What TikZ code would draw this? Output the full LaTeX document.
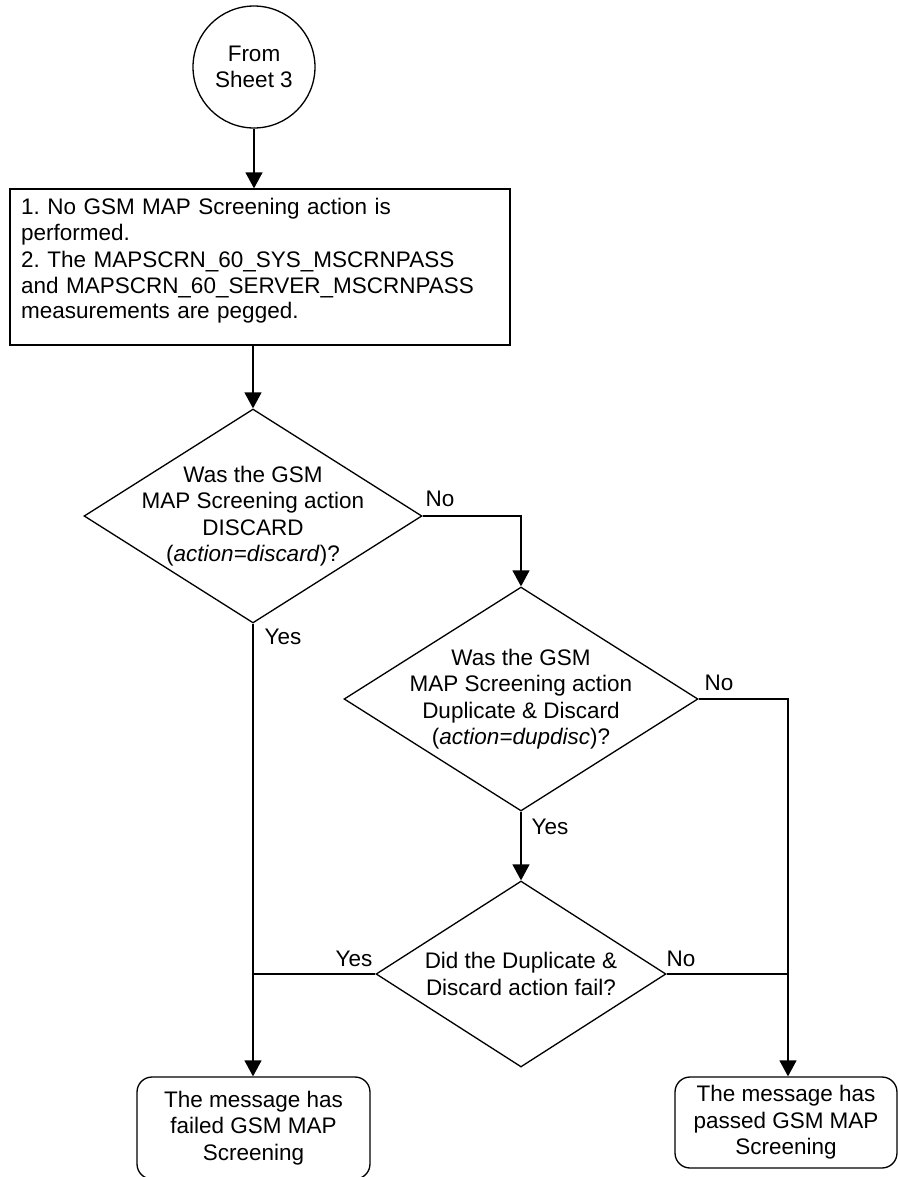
\documentclass[tikz,border=0pt]{standalone}
\usepackage{fontspec}
\setmainfont{Liberation Sans}
\usetikzlibrary{shapes.geometric, arrows.meta}

\begin{document}
\begin{tikzpicture}[x=0.02cm, y=-0.02cm,
  every node/.style={font=\fontsize{12.8}{15}\selectfont\frenchspacing},
  traco/.style={line width=0.75pt},
  seta/.style={traco, -{Triangle[length=0.32cm, width=0.34cm]}},
  inicio/.style={circle, draw, traco, minimum size=2.44cm, inner sep=0pt, align=center},
  processo/.style={rectangle, draw, traco, minimum width=10cm, minimum height=3.12cm},
  textoesq/.style={text width=9.56cm, inner sep=0pt, align=left,
                   font=\fontsize{12.8}{14.5}\selectfont\frenchspacing},
  decisao/.style={diamond, draw, traco, inner sep=0pt},
  terminal/.style={rectangle, draw, traco, rounded corners=0.3cm, inner sep=0pt, align=center},
  texto/.style={inner sep=0pt, align=center},
  rotulo/.style={inner sep=0pt}]

  \useasboundingbox (0,0) rectangle (897,1177);

  %% ================================================================
  %%  INICIO E PASSO
  %% ================================================================
  \node[inicio] (origem) at (254,67) {From\\Sheet 3};

  % caixa do passo (texto em nó separado)
  \node[processo] (passo) at (260,267) {};
  \node[textoesq] (passot) at (260,261)
    {1. No GSM MAP Screening action is\\performed.\\[1pt]
     2. The MAPSCRN\_60\_SYS\_MSCRNPASS\\and MAPSCRN\_60\_SERVER\_MSCRNPASS\\measurements are pegged.};

  %% ================================================================
  %%  DECISOES
  %% ================================================================
  % losango 1
  \node[decisao, minimum width=6.76cm, minimum height=4.28cm] (d1) at (253,516) {};
  \node[texto] (d1t) at (253,516)
    {Was the GSM\\MAP Screening action\\DISCARD\\(\textit{action=discard})?};

  % losango 2
  \node[decisao, minimum width=7.08cm, minimum height=4.48cm] (d2) at (521,699) {};
  \node[texto] (d2t) at (521,699)
    {Was the GSM\\MAP Screening action\\Duplicate \& Discard\\(\textit{action=dupdisc})?};

  % losango 3
  \node[decisao, minimum width=5.8cm, minimum height=3.72cm] (d3) at (521,974) {};
  \node[texto] (d3t) at (521,974) {Did the Duplicate \&\\Discard action fail?};

  %% ================================================================
  %%  FINAIS
  %% ================================================================
  \node[terminal, minimum width=4.66cm, minimum height=2.04cm] (fim1) at (253.5,1128)
    {The message has\\failed GSM MAP\\Screening};
  \node[terminal, minimum width=4.44cm, minimum height=1.82cm] (fim2) at (786,1122.5)
    {The message has\\passed GSM MAP\\Screening};

  %% ================================================================
  %%  LIGACOES
  %% ================================================================
  \coordinate (canto2) at (788,699);

  \draw[seta] (origem.south) -- (origem.south |- passo.north);
  \draw[seta] (passo.south -| d1.north) -- (d1.north);
  \draw[seta] (d1.east) -| (d2.north);
  \draw[seta] (d1.south) -- (d1.south |- fim1.north);
  \draw[seta] (d2.east) -- (canto2) -- (canto2 |- fim2.north);
  \draw[seta] (d2.south) -- (d3.north);
  \draw[traco] (d3.west) -- (d3.west -| d1.south);
  \draw[traco] (d3.east) -- (d3.east -| canto2);

  % Rótulos Yes / No
  \node[rotulo] (nao1) at (440,499) {No};
  \node[rotulo] (sim1) at (283,637) {Yes};
  \node[rotulo] (nao2) at (719,683) {No};
  \node[rotulo] (sim2) at (550,827) {Yes};
  \node[rotulo] (sim3) at (354,959) {Yes};
  \node[rotulo] (nao3) at (681,959) {No};

\end{tikzpicture}
\end{document}
